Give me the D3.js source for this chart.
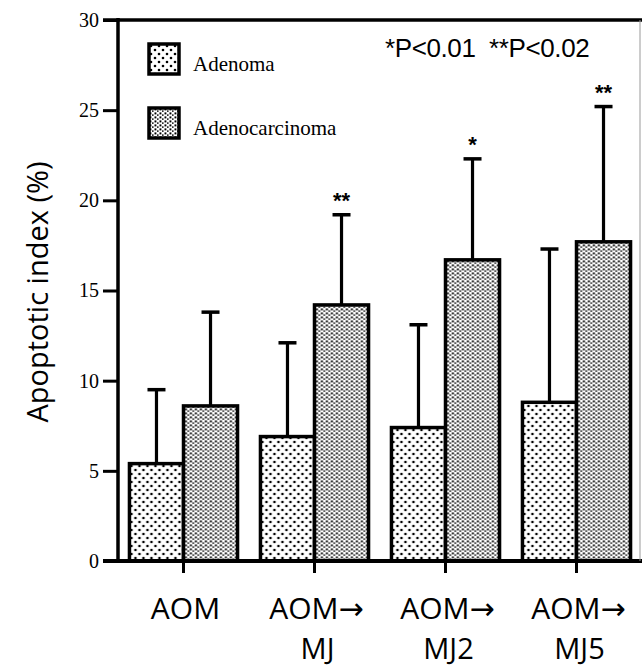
<!DOCTYPE html>
<html>
<head>
<meta charset="utf-8">
<script src="https://cdn.jsdelivr.net/npm/d3@7"></script>
<style>
  body { margin: 0; background: #fff; }
  svg { display: block; }
</style>
</head>
<body>
<div id="chart"></div>
<script>
/////////////////////////////////////////////////////////
//////////////////////// Data ///////////////////////////
/////////////////////////////////////////////////////////

const groupsLine1 = ["AOM", "AOM\u2192", "AOM\u2192", "AOM\u2192"];
const groupsLine2 = ["", "MJ", "MJ2", "MJ5"];
const seriesNames = ["Adenoma", "Adenocarcinoma"];

const adenoma   = [5.4, 6.9, 7.4, 8.8];    //mean apoptotic index
const adenomaSD = [4.1, 5.2, 5.7, 8.5];    //upper error bar length
const adenoca   = [8.6, 14.2, 16.7, 17.7];
const adenocaSD = [5.2, 5.0, 5.6, 7.5];
const signif    = ["", "**", "*", "**"];    //marks above adenocarcinoma bars

const yTicks = [0, 5, 10, 15, 20, 25, 30];

/////////////////////////////////////////////////////////
//////////////////////// Setup //////////////////////////
/////////////////////////////////////////////////////////

let config = {
  w: 642,
  h: 668,
  left: 118,      //y axis position
  right: 642,
  top: 20,
  bottom: 561,    //x axis position
  stroke: 3.5,
  capW: 18
};

let svg = d3.select("#chart").append("svg")
  .attr("width", config.w)
  .attr("height", config.h);

let defs = svg.append("defs");

//sparse dots for adenoma
let p1 = defs.append("pattern")
  .attr("id", "dotsSparse")
  .attr("patternUnits", "userSpaceOnUse")
  .attr("width", 8).attr("height", 8);
p1.append("rect").attr("width", 8).attr("height", 8).attr("fill", "#fff");
p1.append("circle").attr("cx", 2).attr("cy", 2).attr("r", 1.3).attr("fill", "#000");
p1.append("circle").attr("cx", 6).attr("cy", 6).attr("r", 1.3).attr("fill", "#000");

//dense dots for adenocarcinoma
let p2 = defs.append("pattern")
  .attr("id", "dotsDense")
  .attr("patternUnits", "userSpaceOnUse")
  .attr("width", 5).attr("height", 4);
p2.append("rect").attr("width", 5).attr("height", 4).attr("fill", "#fff");
p2.append("rect").attr("x", 0.5).attr("y", 0.4).attr("width", 1.9).attr("height", 2).attr("fill", "#000");
p2.append("rect").attr("x", 3).attr("y", 2.4).attr("width", 1.6).attr("height", 1.4).attr("fill", "#000");

const fills = {Adenoma: "url(#dotsSparse)", Adenocarcinoma: "url(#dotsDense)"};

//Scales
let x0 = d3.scaleBand()
  .domain(d3.range(groupsLine1.length))
  .range([config.left, config.right])
  .paddingInner(0.175)
  .paddingOuter(0.0875);

let x1 = d3.scaleBand()
  .domain(seriesNames)
  .range([0, x0.bandwidth()]);

let y = d3.scaleLinear()
  .domain([0, 30])
  .range([config.bottom, config.top]);

/////////////////////////////////////////////////////////
//////////////////////// Bars ///////////////////////////
/////////////////////////////////////////////////////////

let rows = groupsLine1.map((g, i) => [
  {series: "Adenoma", i: i, v: adenoma[i], sd: adenomaSD[i], mark: ""},
  {series: "Adenocarcinoma", i: i, v: adenoca[i], sd: adenocaSD[i], mark: signif[i]}
]);

let group = svg.append("g").selectAll("g")
  .data(rows)
  .join("g")
  .attr("transform", (d, i) => `translate(${x0(i)},0)`);

//error bars first so the bar outline sits over them
let err = group.selectAll(".err")
  .data(d => d)
  .join("g")
  .attr("class", "err");

err.append("line")
  .attr("x1", d => x1(d.series) + x1.bandwidth() / 2)
  .attr("x2", d => x1(d.series) + x1.bandwidth() / 2)
  .attr("y1", d => y(d.v))
  .attr("y2", d => y(d.v + d.sd))
  .attr("stroke", "#000")
  .attr("stroke-width", 3.2);

err.append("line")
  .attr("x1", d => x1(d.series) + x1.bandwidth() / 2 - config.capW / 2)
  .attr("x2", d => x1(d.series) + x1.bandwidth() / 2 + config.capW / 2)
  .attr("y1", d => y(d.v + d.sd))
  .attr("y2", d => y(d.v + d.sd))
  .attr("stroke", "#000")
  .attr("stroke-width", 3.5);

err.append("text")
  .attr("x", d => x1(d.series) + x1.bandwidth() / 2)
  .attr("y", d => y(d.v + d.sd) - 7)
  .attr("text-anchor", "middle")
  .style("font-family", "'Liberation Sans', Arial, sans-serif")
  .style("font-size", "22px")
  .style("font-weight", "bold")
  .text(d => d.mark);

group.selectAll(".bar")
  .data(d => d)
  .join("rect")
  .attr("class", "bar")
  .attr("x", d => x1(d.series))
  .attr("y", d => y(d.v))
  .attr("width", x1.bandwidth())
  .attr("height", d => y(0) - y(d.v))
  .attr("fill", d => fills[d.series])
  .attr("stroke", "#000")
  .attr("stroke-width", config.stroke);

/////////////////////////////////////////////////////////
//////////////////////// Axes ///////////////////////////
/////////////////////////////////////////////////////////

let yAxis = svg.append("g")
  .attr("transform", `translate(${config.left},0)`)
  .call(d3.axisLeft(y).tickValues(yTicks).tickSize(15).tickPadding(4));

yAxis.select(".domain").remove();
yAxis.selectAll(".tick line").attr("stroke", "#000").attr("stroke-width", 3);
yAxis.selectAll(".tick text")
  .style("font-family", "'Liberation Serif', 'Times New Roman', serif")
  .style("font-size", "20px")
  .attr("fill", "#000");

//axis frame
svg.append("line")
  .attr("x1", config.left).attr("x2", config.left)
  .attr("y1", config.top - 2).attr("y2", config.bottom + 2)
  .attr("stroke", "#000").attr("stroke-width", 3.5);
svg.append("line")
  .attr("x1", config.left - 15).attr("x2", config.w)
  .attr("y1", config.top).attr("y2", config.top)
  .attr("stroke", "#000").attr("stroke-width", 3.5);
svg.append("line")
  .attr("x1", config.left - 15).attr("x2", config.w)
  .attr("y1", config.bottom).attr("y2", config.bottom)
  .attr("stroke", "#000").attr("stroke-width", 4);
svg.append("line")
  .attr("x1", config.w - 2).attr("x2", config.w - 2)
  .attr("y1", config.top).attr("y2", config.bottom)
  .attr("stroke", "#999").attr("stroke-width", 1);

//x ticks and labels
let xg = svg.append("g").selectAll("g")
  .data(groupsLine1)
  .join("g")
  .attr("transform", (d, i) => `translate(${x0(i) + x0.bandwidth() / 2},0)`);

xg.append("line")
  .attr("y1", config.bottom).attr("y2", config.bottom + 12)
  .attr("stroke", "#000").attr("stroke-width", 3);

xg.append("text")
  .attr("x", 2)
  .attr("y", 619)
  .attr("text-anchor", "middle")
  .style("font-family", "'Open Sans', 'DejaVu Sans', sans-serif")
  .style("font-size", "30px")
  .text(d => d);

xg.append("text")
  .attr("x", 3)
  .attr("y", 659)
  .attr("text-anchor", "middle")
  .style("font-family", "'Open Sans', 'DejaVu Sans', sans-serif")
  .style("font-size", "29px")
  .text((d, i) => groupsLine2[i]);

//y title
svg.append("text")
  .attr("transform", "translate(48,292) rotate(-90)")
  .attr("text-anchor", "middle")
  .style("font-family", "'Open Sans', 'DejaVu Sans', sans-serif")
  .style("font-size", "29px")
  .text("Apoptotic index (%)");

/////////////////////////////////////////////////////////
/////////////////////// Legend //////////////////////////
/////////////////////////////////////////////////////////

let legend = svg.append("g").selectAll("g")
  .data(seriesNames)
  .join("g")
  .attr("transform", (d, i) => `translate(149,${44 + i * 64})`);

legend.append("rect")
  .attr("width", 30).attr("height", 30)
  .attr("fill", d => fills[d])
  .attr("stroke", "#000")
  .attr("stroke-width", 3.5);

legend.append("text")
  .attr("x", 44)
  .attr("y", 27)
  .style("font-family", "'Liberation Serif', 'Times New Roman', serif")
  .style("font-size", "21px")
  .text(d => d);

//significance note
svg.append("text")
  .attr("x", 385)
  .attr("y", 57)
  .style("font-family", "'Liberation Sans', Arial, sans-serif")
  .style("font-size", "26px")
  .style("letter-spacing", "-0.4px")
  .attr("xml:space", "preserve")
  .text("*P<0.01  **P<0.02");
</script>
</body>
</html>
